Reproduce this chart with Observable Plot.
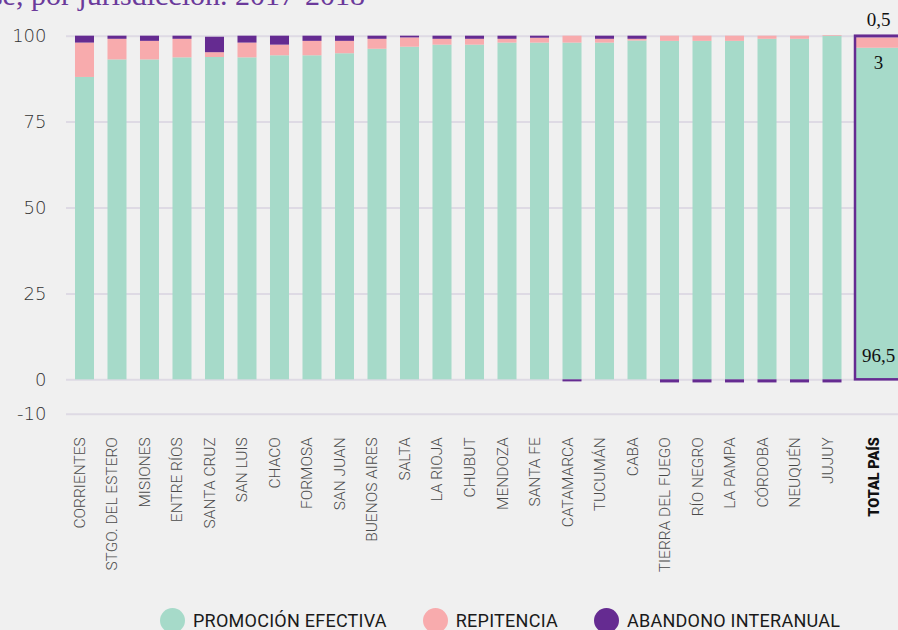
<!DOCTYPE html>
<html>
<head>
<meta charset="utf-8">
<script src="https://cdn.jsdelivr.net/npm/d3@7"></script>
<script src="https://cdn.jsdelivr.net/npm/@observablehq/plot@0.6"></script>
<style>
  body { margin: 0; background: #f0f0f0; }
  #wrap { position: relative; width: 898px; height: 630px; overflow: hidden; background: #f0f0f0; }
  #title { position: absolute; right: 533px; top: -20px; white-space: nowrap; font-family: "Liberation Serif", serif; font-size: 30px; line-height: 1; color: #6b3a9b; }
  #chart { position: absolute; left: 0; top: 0; }
  #legend { position: absolute; left: 160px; top: 608px; display: flex; align-items: center; font-family: Roboto, "Noto Sans", sans-serif; font-size: 18px; letter-spacing: 0.25px; color: #1a1a1a; }
  .item { display: flex; align-items: center; margin-right: 36px; }
  .dot { width: 25px; height: 25px; border-radius: 50%; margin-right: 8px; }
</style>
</head>
<body>
<div id="wrap">
  <div id="title">Tasas de promoción efectiva, repitencia y abandono interanual en el nivel primario común, según clase, por jurisdicción. 2017-2018</div>
  <div id="chart"></div>
  <div id="legend"></div>
</div>
<script>
const jurisdicciones = ["CORRIENTES","STGO. DEL ESTERO","MISIONES","ENTRE RÍOS","SANTA CRUZ","SAN LUIS","CHACO","FORMOSA","SAN JUAN","BUENOS AIRES","SALTA","LA RIOJA","CHUBUT","MENDOZA","SANTA FE","CATAMARCA","TUCUMÁN","CABA","TIERRA DEL FUEGO","RÍO NEGRO","LA PAMPA","CÓRDOBA","NEUQUÉN","JUJUY","TOTAL PAÍS"];
const promocion  = [88.0, 93.1, 93.1, 93.7, 93.8, 93.7, 94.3, 94.3, 94.9, 96.2, 96.8, 97.4, 97.4, 98.0, 98.0, 98.0, 98.0, 98.6, 98.5, 98.5, 98.5, 99.1, 99.1, 100.0, 96.5];
const repitencia = [10.0, 6.0, 5.4, 5.4, 1.4, 4.3, 3.1, 4.2, 3.6, 2.9, 2.7, 1.7, 1.7, 1.1, 1.4, 2.0, 1.1, 0.5, 1.5, 1.5, 1.5, 0.9, 0.9, 0.2, 3.0];
const abandono   = [2.0, 0.9, 1.5, 0.9, 4.5, 2.0, 2.6, 1.5, 1.5, 0.9, 0.5, 0.9, 0.9, 0.9, 0.6, -0.6, 0.9, 0.9, -0.9, -0.9, -0.9, -0.9, -0.9, -0.9, 0.5];
const series = ["PROMOCIÓN EFECTIVA", "REPITENCIA", "ABANDONO INTERANUAL"];
const colores = ["#a6dac9", "#f8abad", "#652b91"];
const yTicks = [-10, 0, 25, 50, 75, 100];
const yTickLabels = ["-10", "0", "25", "50", "75", "100"];

const TOTAL = "TOTAL PAÍS";
const valores = [promocion, repitencia, abandono];
const rows = [];
jurisdicciones.forEach((j, i) => {
  series.forEach((s, k) => rows.push({j, s, v: valores[k][i]}));
});
const prov = rows.filter(d => d.j !== TOTAL);
const tot = rows.filter(d => d.j === TOTAL);
const iT = jurisdicciones.indexOf(TOTAL);
const totTop = promocion[iT] + repitencia[iT] + abandono[iT];
const fmt = v => String(v).replace(".", ",");
const shift = 13.5;
const serif = {fontSize: 19, fill: "#111", fontFamily: "Liberation Serif", dx: shift};

const chart = Plot.plot({
  width: 898,
  height: 600,
  marginLeft: 66,
  marginRight: 0,
  marginTop: 35.7,
  marginBottom: 186.3,
  style: {background: "transparent", overflow: "visible"},
  x: {type: "band", domain: jurisdicciones, range: [61.5, 887.5], padding: 0.415, round: false, axis: null},
  y: {domain: [-10, 100], axis: null},
  color: {domain: series, range: colores},
  marks: [
    Plot.ruleY(yTicks, {y: d => d, stroke: "#dedae4", strokeWidth: 2}),
    Plot.text(yTicks, {y: d => d, text: (d, i) => yTickLabels[i], frameAnchor: "left", textAnchor: "end", dx: -20, fontSize: 18, fontWeight: 200, fill: "#333", fontFamily: "DejaVu Sans"}),
    Plot.barY(prov, Plot.stackY({x: "j", y: "v", fill: "s"})),
    Plot.barY(tot, Plot.stackY({x: "j", y: "v", fill: "s", insetLeft: -shift, insetRight: -shift, dx: shift})),
    Plot.barY([TOTAL], {x: d => d, y1: 0, y2: totTop, fill: "none", stroke: "#652b91", strokeWidth: 2.5, insetLeft: -shift, insetRight: -shift, dx: shift}),
    Plot.text([TOTAL], {x: d => d, y: totTop, text: () => fmt(abandono[iT]), dy: -16, ...serif}),
    Plot.text([TOTAL], {x: d => d, y: promocion[iT], text: () => fmt(repitencia[iT]), dy: 15, ...serif}),
    Plot.text([TOTAL], {x: d => d, y: 0, text: () => fmt(promocion[iT]), dy: -24, ...serif}),
    Plot.text(jurisdicciones.filter(d => d !== TOTAL), {x: d => d, text: d => d, frameAnchor: "bottom", rotate: -90, textAnchor: "end", dy: 23, fontSize: 15.5, fontWeight: 300, fill: "#4a4a4a", fontFamily: "Roboto"}),
    Plot.text([TOTAL], {x: d => d, text: d => d, frameAnchor: "bottom", rotate: -90, textAnchor: "end", dy: 23, dx: shift, fontSize: 14.5, fontWeight: 900, fill: "#111", fontFamily: "Roboto"})
  ]
});
document.getElementById("chart").appendChild(chart);

const legend = document.getElementById("legend");
series.forEach((s, k) => {
  const it = document.createElement("div");
  it.className = "item";
  it.innerHTML = `<span class="dot" style="background:${colores[k]}"></span><span>${s}</span>`;
  legend.appendChild(it);
});
</script>
</body>
</html>
